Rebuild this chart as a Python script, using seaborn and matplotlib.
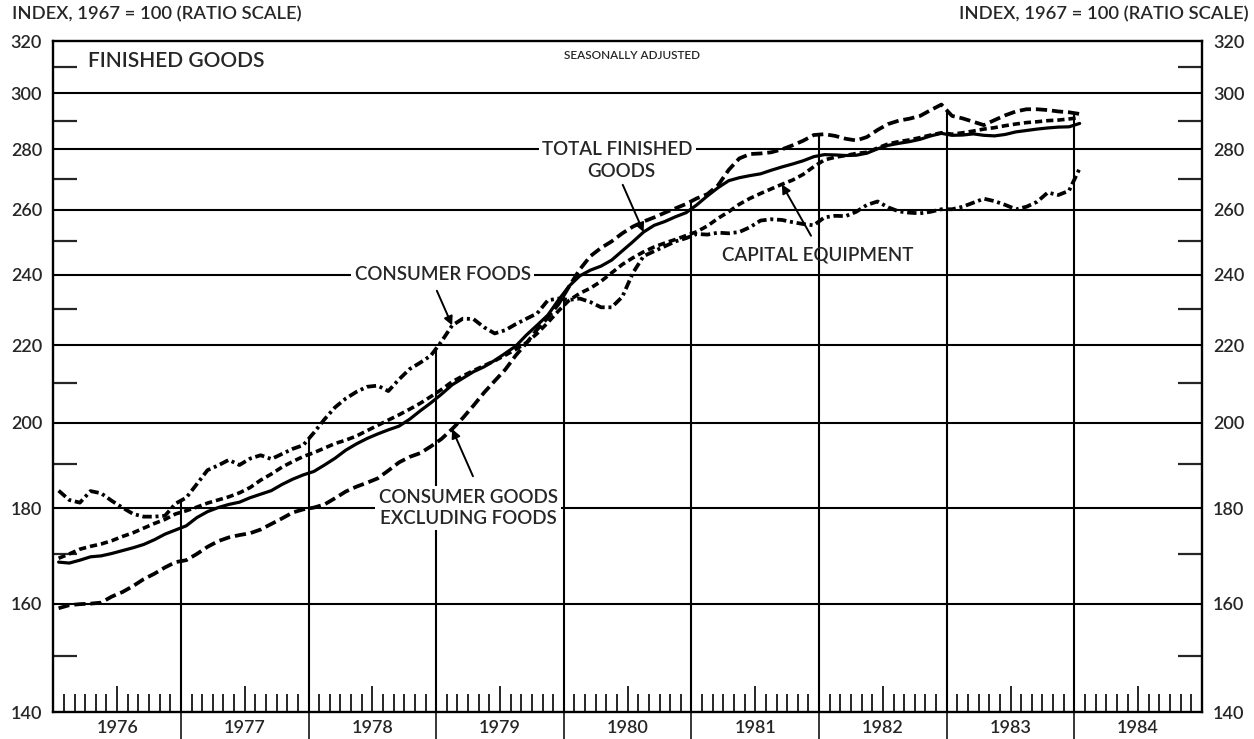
import numpy as np
import pandas as pd
import matplotlib
matplotlib.use("Agg")
import matplotlib.pyplot as plt
from matplotlib.ticker import FixedLocator, FixedFormatter, NullFormatter
import seaborn as sns

# ---------------- DATA (monthly, Jan 1976 .. Jan 1984, 1967 = 100) ----------------
total_finished = [
    168.4, 168.2, 168.8, 169.5, 169.7, 170.2, 170.8, 171.4, 172.1, 173.1, 174.3, 175.2,
    176.1, 177.9, 179.2, 180.1, 180.8, 181.3, 182.3, 183.1, 183.9, 185.3, 186.5, 187.5,
    188.3, 189.8, 191.4, 193.3, 194.8, 196.1, 197.2, 198.2, 199.1, 200.8, 202.9, 204.9,
    207.1, 209.5, 211.2, 212.9, 214.2, 215.9, 217.8, 219.8, 222.8, 225.5, 228.3, 232.6,
    236.6, 239.6, 241.3, 242.5, 244.3, 247.1, 249.9, 252.9, 255.0, 256.2, 257.7, 259.0,
    261.5, 264.4, 267.1, 269.4, 270.4, 271.1, 271.7, 272.9, 274.0, 275.0, 276.1, 277.5,
    278.2, 278.1, 277.9, 278.0, 278.7, 280.2, 281.4, 282.1, 282.7, 283.5, 284.7, 285.6,
    284.9, 285.0, 285.4, 284.9, 284.7, 285.2, 286.1, 286.6, 287.1, 287.5, 287.8, 287.9,
    289.1,
]
capital_equipment = [
    169.2, 170.1, 171.1, 171.7, 172.2, 172.9, 173.8, 174.6, 175.6, 176.6, 177.5, 178.7,
    179.4, 180.2, 181.1, 181.8, 182.5, 183.4, 184.6, 186.3, 187.7, 189.3, 190.6, 191.8,
    192.7, 193.8, 194.9, 195.7, 196.7, 198.0, 199.3, 200.6, 201.9, 203.3, 204.8, 206.5,
    208.3, 210.3, 211.8, 213.2, 214.5, 215.8, 217.3, 218.9, 220.7, 223.2, 226.2, 229.5,
    232.5, 234.5, 236.0, 238.0, 240.5, 243.0, 245.0, 246.8, 248.3, 249.5, 250.6, 251.8,
    253.0, 254.8, 257.2, 259.3, 261.7, 263.6, 265.2, 266.7, 268.2, 269.6, 271.5, 274.1,
    276.4, 277.3, 277.9, 278.6, 279.0, 280.5, 281.9, 282.7, 283.3, 284.1, 285.0, 285.8,
    285.3, 285.8, 286.4, 287.1, 287.6, 288.3, 288.9, 289.4, 289.7, 290.1, 290.3, 290.7,
    291.2,
]
consumer_ex_foods = [
    159.1, 159.7, 159.9, 160.0, 160.2, 161.4, 162.3, 163.5, 164.9, 166.0, 167.3, 168.4,
    168.8, 170.1, 171.6, 172.8, 173.6, 174.1, 174.5, 175.3, 176.5, 177.7, 179.0, 179.7,
    180.1, 180.8, 182.2, 183.7, 184.8, 185.7, 186.7, 188.5, 190.4, 191.7, 192.6, 194.2,
    196.0, 198.4, 201.1, 204.2, 207.5, 210.5, 213.5, 217.3, 220.6, 224.3, 227.6, 231.4,
    236.5, 241.5, 245.5, 248.0, 250.0, 252.5, 254.6, 256.2, 257.5, 259.0, 260.4, 261.8,
    263.6, 265.0, 267.9, 273.0, 276.9, 278.4, 278.6, 279.0, 280.0, 281.4, 283.0, 285.0,
    285.3, 284.7, 283.7, 283.1, 284.3, 286.8, 288.9, 290.1, 290.8, 291.8, 293.9, 295.9,
    291.8, 290.9, 289.7, 288.5, 290.3, 292.0, 293.4, 294.2, 294.2, 293.9, 293.4, 293.1,
    292.5,
]
consumer_foods = [
    183.9, 181.8, 181.2, 183.8, 183.3, 181.6, 180.1, 178.7, 178.1, 178.1, 178.3, 181.0,
    182.3, 185.4, 188.6, 189.7, 191.0, 189.8, 191.3, 192.1, 191.2, 192.4, 193.6, 194.5,
    197.5, 200.8, 203.8, 206.0, 207.7, 209.0, 209.3, 207.9, 210.9, 213.6, 215.3, 217.2,
    221.0, 225.4, 227.3, 227.2, 224.9, 223.2, 224.1, 225.8, 227.3, 228.8, 232.5, 233.0,
    232.6, 233.0, 232.0, 230.5, 230.5, 233.5, 240.5, 245.5, 247.0, 248.5, 250.0, 251.0,
    252.3, 252.1, 252.7, 252.5, 252.9, 254.4, 256.5, 256.9, 256.7, 256.0, 255.4, 255.0,
    257.5, 258.0, 257.9, 259.3, 261.5, 262.6, 260.7, 259.4, 259.0, 258.8, 259.3, 260.1,
    260.1, 260.9, 262.2, 263.5, 262.7, 261.5, 260.1, 260.9, 262.5, 265.5, 264.7, 266.1,
    273.5,
]

years = list(range(1976, 1985))
year_labels = [str(y) for y in years]
grid_levels = [160, 180, 200, 220, 240, 260, 280, 300]
axis_levels = [140, 160, 180, 200, 220, 240, 260, 280, 300, 320]
axis_labels = ["140", "160", "180", "200", "220", "240", "260", "280", "300", "320"]
half_levels = [150, 170, 190, 210, 230, 250, 270, 290, 310]

# mid-month positions in fractional years
months = pd.date_range("1976-01-01", periods=len(total_finished), freq="MS")
t = np.asarray(months.year + (months.month - 0.5) / 12.0)

sns.set_style("white")
plt.rcParams["font.family"] = ["Lato", "DejaVu Sans"]
plt.rcParams["font.weight"] = "semibold"

fig = plt.figure(figsize=(12.54, 7.39), dpi=100)
ax = fig.add_axes([0.0425, 0.0365, 0.916, 0.908])
ax.set_yscale("log")

# ---------------- SERIES ----------------
series = [
    (total_finished, "-", 2.3),
    (capital_equipment, (0, (2.0, 1.1)), 2.6),
    (consumer_ex_foods, (0, (3.0, 1.3)), 2.7),
    (consumer_foods, (0, (2.5, 1.0, 0.8, 1.0)), 2.7),
]
for vals, ls, lw in series:
    sns.lineplot(x=t, y=vals, ax=ax, color="black", linestyle=ls, linewidth=lw,
                 errorbar=None, sort=False, zorder=4)

ax.set_xlim(1976, 1985)
ax.set_ylim(140, 320)

# horizontal grid
for lvl in grid_levels:
    ax.axhline(lvl, color="black", lw=1.5, zorder=1)

# year dividers: from the bottom up to the highest curve, and down through the labels
all_series = [s[0] for s in series]
for yr in years[1:]:
    top = max(np.interp(yr, t, s) for s in all_series)
    ax.vlines(yr, 140, top, color="black", lw=1.5, zorder=1)
    ax.plot([yr, yr], [0, -0.04], color="black", lw=1.1,
            transform=ax.get_xaxis_transform(), clip_on=False)

for side in ["left", "right", "top", "bottom"]:
    ax.spines[side].set_linewidth(1.7)
    ax.spines[side].set_color("black")

# y axis (ratio scale) both sides
ax.yaxis.set_major_locator(FixedLocator(axis_levels))
ax.yaxis.set_major_formatter(FixedFormatter(axis_labels))
ax.yaxis.set_minor_locator(FixedLocator(half_levels))
ax.yaxis.set_minor_formatter(NullFormatter())
ax.tick_params(axis="y", which="major", length=0, labelsize=13, pad=8,
               left=True, right=True, labelleft=True, labelright=True)
ax.tick_params(axis="y", which="minor", direction="in", length=17, width=1.6,
               left=True, right=True)

# x axis: month ticks, taller mid-year tick carries the year label
ax.xaxis.set_major_locator(FixedLocator([y + 0.5 for y in years]))
ax.xaxis.set_major_formatter(FixedFormatter(year_labels))
ax.xaxis.set_minor_locator(FixedLocator([y + m / 12.0 for y in years for m in range(1, 12) if m != 6]))
ax.tick_params(axis="x", which="major", direction="in", length=19, width=1.4,
               labelsize=13, pad=6, bottom=True, top=False)
ax.tick_params(axis="x", which="minor", direction="in", length=13, width=1.4,
               bottom=True, top=False)
ax.set_xlabel("")
ax.set_ylabel("")

# ---------------- TEXT ----------------
box = dict(facecolor="white", edgecolor="none", pad=2.5)
ax.text(1979.05, 240, "CONSUMER FOODS", ha="center", va="center", fontsize=13.5,
        bbox=box, zorder=5)
ax.text(1980.42, 280, "TOTAL FINISHED", ha="center", va="center", fontsize=13.5,
        bbox=box, zorder=5)
ax.text(1980.45, 272.4, "GOODS", ha="center", va="center", fontsize=13.5, zorder=5)
ax.text(1981.99, 245.9, "CAPITAL EQUIPMENT", ha="center", va="center", fontsize=13.5,
        zorder=5)
ax.text(1979.25, 180, "CONSUMER GOODS\nEXCLUDING FOODS", ha="center", va="center",
        fontsize=13.5, linespacing=1.25, bbox=box, zorder=5)

arrow = dict(arrowstyle="-|>", color="black", lw=1.4, mutation_scale=13,
             shrinkA=0, shrinkB=0)
ax.annotate("", xy=(t[37], consumer_foods[37]), xytext=(-11, 25),
            textcoords="offset points", arrowprops=arrow, zorder=6)
ax.annotate("", xy=(t[37], consumer_ex_foods[37]), xytext=(15, -34),
            textcoords="offset points", arrowprops=arrow, zorder=6)
ax.annotate("", xy=(t[55], total_finished[55]), xytext=(-15, 34),
            textcoords="offset points", arrowprops=arrow, zorder=6)
ax.annotate("", xy=(t[68], capital_equipment[68]), xytext=(21, -37),
            textcoords="offset points", arrowprops=arrow, zorder=6)

ax.text(0.0302, 0.970, "FINISHED GOODS", transform=ax.transAxes, ha="left",
        va="center", fontsize=15)
ax.text(0.5038, 0.979, "SEASONALLY ADJUSTED", transform=ax.transAxes, ha="center",
        va="center", fontsize=8.5)

fig.text(0.0096, 0.981, "INDEX, 1967 = 100 (RATIO SCALE)", ha="left", va="center",
         fontsize=13.2)
fig.text(0.996, 0.981, "INDEX, 1967 = 100 (RATIO SCALE)", ha="right", va="center",
         fontsize=13.2)

fig.savefig("out.png", dpi=100)
